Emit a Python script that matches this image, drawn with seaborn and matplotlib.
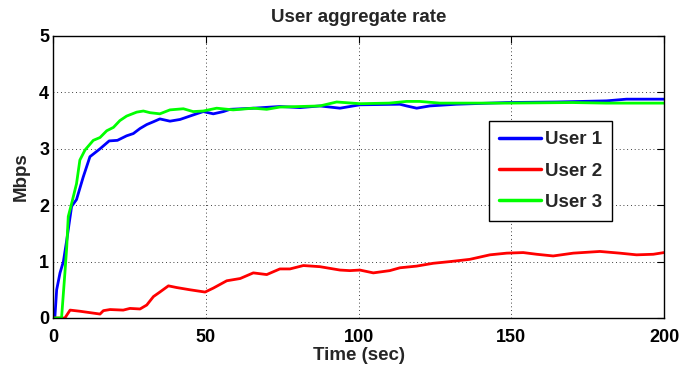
import matplotlib
matplotlib.use("Agg")
import matplotlib.pyplot as plt
import numpy as np
import pandas as pd
import seaborn as sns

# Aggregate rate per user (Mbps) over time (sec)
user1_t = [0, 0.5, 1.1, 2.2, 3.3, 4.4, 6.0, 7.6, 9.8, 12.0, 15.3, 18.3, 21.0, 24.0,
           26.2, 28.4, 30.6, 32.8, 34.9, 38.2, 41.5, 45.8, 49.1, 52.4, 55.7, 57.9,
           65.5, 74.2, 80.8, 87.3, 93.9, 100.4, 113.5, 115.7, 119.0, 123.3, 132.0,
           148.5, 164.8, 181.2, 187.7, 200]
user1_v = [0, 0, 0.5, 0.8, 1.0, 1.38, 1.98, 2.1, 2.5, 2.86, 3.0, 3.14, 3.15, 3.23,
           3.27, 3.36, 3.43, 3.48, 3.53, 3.49, 3.52, 3.60, 3.66, 3.62, 3.66, 3.70,
           3.72, 3.75, 3.73, 3.76, 3.72, 3.78, 3.79, 3.76, 3.72, 3.76, 3.79,
           3.82, 3.83, 3.85, 3.88, 3.88]

user2_t = [0, 3.8, 5.5, 8.7, 12.0, 15.3, 16.4, 18.6, 22.9, 25.1, 28.4, 30.6, 32.8,
           34.9, 37.7, 40.4, 44.8, 49.7, 52.4, 56.8, 61.2, 65.5, 69.9, 74.2, 77.5,
           81.9, 87.3, 93.9, 97.1, 100.4, 104.8, 110.2, 113.5, 119.0, 124.4, 129.9,
           136.4, 143.0, 148.5, 153.9, 158.3, 163.7, 170.3, 179.0, 185.5, 191.0,
           196.5, 200]
user2_v = [0, 0, 0.14, 0.12, 0.095, 0.07, 0.13, 0.15, 0.14, 0.17, 0.16, 0.23, 0.38,
           0.46, 0.57, 0.54, 0.50, 0.46, 0.53, 0.66, 0.70, 0.80, 0.77, 0.87, 0.87,
           0.93, 0.91, 0.85, 0.84, 0.85, 0.80, 0.84, 0.89, 0.92, 0.97, 1.00,
           1.04, 1.12, 1.15, 1.16, 1.13, 1.10, 1.15, 1.18, 1.15, 1.12,
           1.13, 1.16]

user3_t = [0, 2.7, 3.8, 4.4, 4.9, 6.0, 7.6, 8.7, 10.4, 13.1, 15.3, 17.5, 19.7, 21.8,
           24.0, 27.3, 29.5, 31.7, 34.9, 38.2, 42.6, 45.8, 49.1, 53.5, 58.9, 65.5,
           69.9, 74.2, 80.8, 87.3, 92.8, 100.4, 110.0, 115.7, 120.0, 126.6, 148.5,
           170.0, 181.0, 200]
user3_v = [0, 0, 0.8, 1.26, 1.8, 2.03, 2.38, 2.8, 2.98, 3.15, 3.2, 3.32, 3.38, 3.5,
           3.58, 3.65, 3.67, 3.64, 3.62, 3.69, 3.71, 3.66, 3.67, 3.72, 3.69, 3.72,
           3.70, 3.74, 3.75, 3.76, 3.83, 3.80, 3.81, 3.84, 3.84, 3.81, 3.81,
           3.82, 3.81, 3.81]

users = ["User 1", "User 2", "User 3"]
colors = {"User 1": "#0000ff", "User 2": "#ff0000", "User 3": "#00ff00"}
x_ticks = [0, 50, 100, 150, 200]
y_ticks = [0, 1, 2, 3, 4, 5]

frames = []
for name, t, v in zip(users, [user1_t, user2_t, user3_t], [user1_v, user2_v, user3_v]):
    frames.append(pd.DataFrame({"t": t, "v": v, "user": name}))
df = pd.concat(frames, ignore_index=True)

sns.set_style("white")
plt.rcParams["font.family"] = ["Liberation Sans", "DejaVu Sans"]
plt.rcParams["font.weight"] = "bold"

fig = plt.figure(figsize=(6.8, 3.69), dpi=100)
ax = fig.add_axes([53.3 / 680, 1 - 318 / 369, (664 - 53.3) / 680, (318 - 36) / 369])

sns.lineplot(data=df, x="t", y="v", hue="user", palette=colors, hue_order=users,
             estimator=None, sort=False, linewidth=2.0, ax=ax, legend=True)

ax.set_xlim(0, 200)
ax.set_ylim(0, 5)
ax.set_xticks(x_ticks)
ax.set_yticks(y_ticks)
ax.tick_params(direction="in", length=5, width=0.8, top=True, right=True,
               labelsize=13, colors="black")
ax.tick_params(axis="x", pad=8)
ax.tick_params(axis="y", pad=3)
for lbl in ax.get_xticklabels() + ax.get_yticklabels():
    lbl.set_fontweight("bold")
ax.grid(True, color="black", linestyle=(0, (1, 3.5)), linewidth=0.6)
for sp in ax.spines.values():
    sp.set_color("black")
    sp.set_linewidth(1.0)

ax.set_title("User aggregate rate", fontsize=13.5, fontweight="bold", pad=10)
ax.set_xlabel("Time (sec)", fontsize=13.5, fontweight="bold", labelpad=1)
ax.set_ylabel("Mbps", fontsize=13.5, fontweight="bold", labelpad=7)

handles, labels = ax.get_legend_handles_labels()
leg = ax.legend(handles, labels, loc="upper left", bbox_to_anchor=(0.713, 0.699),
                borderaxespad=0, fancybox=False, frameon=True, edgecolor="black",
                framealpha=1, handlelength=2.25, handletextpad=0.2,
                labelspacing=0.75, borderpad=0.55,
                prop={"weight": "bold", "size": 13.5})
leg.get_frame().set_linewidth(1.0)
for line in leg.get_lines():
    line.set_linewidth(2.5)

fig.savefig("out.png", dpi=100)
